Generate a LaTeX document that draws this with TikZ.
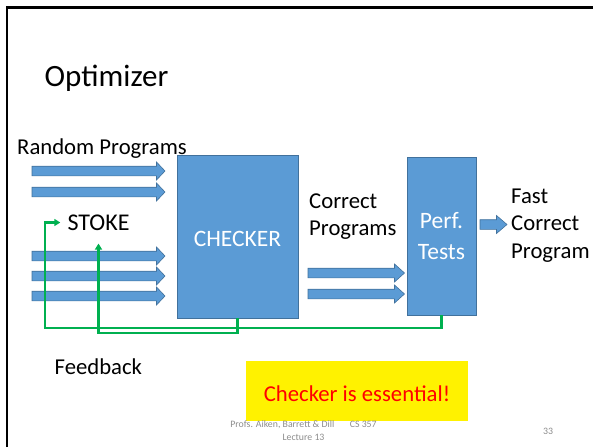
\documentclass[tikz,border=0pt]{standalone}
\usepackage{fontspec}
\setmainfont{Carlito}
\usetikzlibrary{arrows.meta}

\definecolor{accent}{HTML}{5B9BD5}
\definecolor{accentdark}{HTML}{41719C}
\definecolor{fbgreen}{HTML}{00B050}
\definecolor{footgray}{HTML}{8C8C8C}

% wide block arrow: #1 = start x, #2 = tip x, #3 = centre y, #4 = head length
\newcommand{\blockarrow}[4]{%
  \draw[barrow] (#1,#3-4.8) -- (#2-#4,#3-4.8) -- (#2-#4,#3-9) -- (#2,#3)
    -- (#2-#4,#3+9) -- (#2-#4,#3+4.8) -- (#1,#3+4.8) -- cycle;}

\begin{document}
\begin{tikzpicture}[x=1pt,y=-1pt,
  box/.style={draw=accentdark, fill=accent, line width=0.8pt, text=white,
    inner sep=0pt, align=center, font=\fontsize{23.5}{31.5}\selectfont},
  txt/.style={inner sep=0pt, text=black, align=left,
    font=\fontsize{22.7}{27.5}\selectfont},
  barrow/.style={draw=accentdark, fill=accent, line width=0.6pt},
  fb/.style={draw=fbgreen, line width=2.2pt,
    -{Triangle[length=6pt,width=7pt]}},
  foot/.style={inner sep=0pt, text=footgray, font=\fontsize{9.8}{13}\selectfont}]

\useasboundingbox (0,0) rectangle (593,447);

% slide frame (top and left edges)
\draw[line width=2.5pt] (7,447) -- (7,7.5) -- (593,7.5);

% title
\node[inner sep=0pt, anchor=base west, font=\fontsize{31}{36}\selectfont]
  (title) at (44.5,86) {Optimizer};

% main blocks
\node[box, minimum width=121pt, minimum height=163pt,
  text height=20.4pt, text depth=0pt] (checker)
  at (237.5,236.5) {CHECKER};
\node[box, minimum width=69pt, minimum height=158pt] (perf)
  at (441.5,236) {Perf.\\Tests};

% labels
\node[txt, anchor=base west] (random) at (17,154) {Random Programs};
\node[inner sep=0pt, inner xsep=7pt, text=black,
  font=\fontsize{24}{28}\selectfont] (stoke) at (98.5,222.5) {STOKE};
\node[txt, anchor=north west] (correct) at (309,193.3) {Correct\\Programs};
\node[txt, anchor=north west] (fast) at (511,188.3) {Fast\\Correct\\Program};
\node[txt, anchor=base west] (feedback) at (54.5,374) {Feedback};

% random programs flowing into the checker
\blockarrow{32}{165}{171}{8.5}
\blockarrow{32}{165}{192}{8.5}
\blockarrow{32}{165}{256}{8.5}
\blockarrow{32}{165}{276}{8.5}
\blockarrow{32}{165}{296}{8.5}

% correct programs flowing into the performance tests
\blockarrow{308}{404.5}{273}{10}
\blockarrow{308}{404.5}{294}{10}

% fast correct program out
\blockarrow{480}{507}{224.5}{10.5}

% feedback loops back to STOKE
\coordinate (loopA) at (45,328);
\coordinate (loopB) at (98.5,333);
\draw[fb] (perf.south) |- (loopA) |- (stoke.west);
\draw[fb, shorten >=13pt] (checker.south) |- (loopB) -- (stoke.south);

% callout
\node[fill=yellow, inner sep=0pt, minimum width=222pt, minimum height=60pt,
  text height=20pt, text depth=0pt,
  text=red, font=\fontsize{22.7}{27}\selectfont] (note) at (357,391)
  {Checker is essential!};

% footer
\node[foot, align=center, anchor=north] (credit) at (303.5,420)
  {Profs. Aiken, Barrett \& Dill\hspace*{15.5pt}CS 357\\Lecture 13};
\node[foot, anchor=base west] (page) at (543,434) {33};

\end{tikzpicture}
\end{document}
